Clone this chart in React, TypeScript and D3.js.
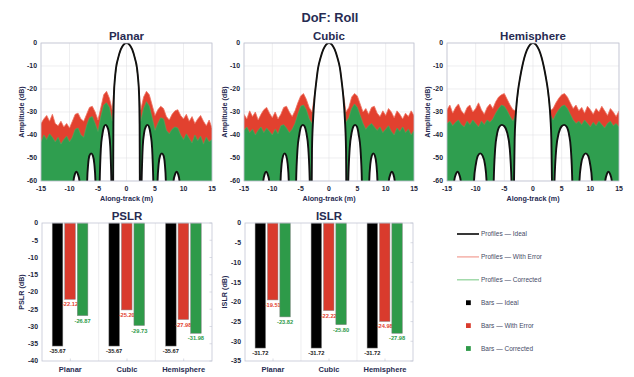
import * as d3 from 'd3';

const FONT = 'Liberation Sans, Arial, Helvetica, sans-serif';
const NAVY = '#272b52';
const INK = '#23263a';
const RED = '#e2412f';
const GREEN = '#2f9e4f';

// along-track sampling of the noisy profiles (m)
const profileX = d3.range(-15, 15.25, 0.5);
const profileXTicks = [-15, -10, -5, 0, 5, 10, 15];
const profileYTicks = [0, -10, -20, -30, -40, -50, -60];

// ideal profiles, right half [x (m), dB], mirrored for the left side
const planarIdealHalf: [number, number][] = [
  [0, 0], [0.5, -0.7], [1.0, -2.8], [1.5, -6.9], [1.85, -11], [2.05, -16], [2.2, -22], [2.3, -35], [2.38, -80],
  [2.48, -80], [2.65, -60], [2.85, -45], [3.1, -39], [3.4, -36.3], [3.68, -35.6], [3.95, -36.5], [4.25, -40], [4.5, -46], [4.7, -60], [4.85, -80],
  [5.3, -80], [5.45, -60], [5.65, -52.5], [5.9, -49], [6.2, -48], [6.5, -49], [6.72, -52.5], [6.9, -60], [7.05, -80],
  [8.1, -80], [8.25, -60], [8.5, -57.3], [8.8, -56], [9.05, -57], [9.3, -60], [9.45, -80],
  [15, -80],
];
const cubicIdealHalf: [number, number][] = [
  [0, 0], [0.5, -0.7], [1.0, -2.8], [1.5, -6.5], [1.9, -10.5], [2.25, -17], [2.55, -24], [2.8, -33], [3.0, -46], [3.12, -80],
  [3.25, -80], [3.4, -60], [3.65, -46], [4.0, -39], [4.3, -36.3], [4.62, -35.6], [4.95, -36.5], [5.25, -40], [5.55, -46], [5.8, -60], [5.95, -80],
  [6.95, -80], [7.1, -60], [7.3, -52.5], [7.55, -49], [7.82, -48], [8.1, -49], [8.35, -52.5], [8.55, -60], [8.7, -80],
  [10.4, -80], [10.55, -60], [10.8, -57.3], [11.1, -56], [11.35, -57], [11.6, -60], [11.75, -80],
  [15, -80],
];
const hemiIdealHalf: [number, number][] = [
  [0, 0], [0.5, -0.7], [1.05, -3], [1.5, -6.3], [1.86, -10], [2.25, -15], [2.6, -20.5], [2.85, -26], [3.05, -33], [3.2, -42], [3.32, -62], [3.4, -80],
  [3.55, -80], [3.75, -60], [4.05, -46], [4.5, -39], [5.0, -36.2], [5.45, -35.6], [5.9, -36.5], [6.3, -40], [6.6, -46], [6.85, -60], [7.0, -80],
  [7.95, -80], [8.1, -60], [8.4, -52.5], [8.8, -49], [9.2, -48], [9.6, -49], [9.95, -52.5], [10.3, -60], [10.45, -80],
  [12.45, -80], [12.6, -60], [12.85, -57.3], [13.15, -56], [13.45, -57], [13.75, -60], [13.9, -80],
  [15, -80],
];

// upper envelope of the noisy profiles, -15..15 m every 0.5 m
const planarError = [
  -35, -33, -31.5, -34, -31, -35, -36, -34, -36.5, -35, -37, -34, -31, -30.5, -33, -34, -31, -28, -27.5, -30, -33.5, -28, -22.5, -21, -24,
  -29, -14.2, -6.5, -2.6, -0.5, 0, -0.5, -2.6, -6.5, -14.2, -29,
  -23.5, -21, -22.5, -27, -31.5, -29, -27.5, -28.5, -32, -33.5, -31, -29.5, -29, -31.5, -33, -31, -34, -32, -35, -33, -31.5, -34, -36, -33.5, -37,
];
const planarCorrected = [
  -43, -40, -42, -39.5, -41, -43, -41, -44, -42, -40.5, -43, -41, -37.5, -37, -40, -41, -36, -32.5, -32, -35, -38.5, -32, -27, -26, -28,
  -34, -14.4, -6.7, -2.7, -0.6, 0, -0.6, -2.7, -6.7, -14.4, -34,
  -28.5, -25.5, -27.5, -32.5, -38, -35, -32.5, -33, -38, -39.5, -37.5, -36.5, -37, -40, -42, -39.5, -41.5, -43.5, -40, -42.5, -40.5, -44, -41, -43, -42,
];
const cubicError = [
  -31, -33, -29.5, -32, -30, -33.5, -31, -29, -28, -30.5, -32.5, -30, -33, -31, -28, -27.5, -30, -32, -29.5, -26, -23, -22, -24.5, -28, -30,
  -21.5, -11.7, -6.2, -2.6, -0.5, 0, -0.5, -2.6, -6.2, -11.7, -21.5,
  -30, -28, -23.5, -22, -23, -26.5, -30, -28.5, -31, -28, -27.5, -30.5, -32, -29.5, -31.5, -28.5, -30, -32.5, -29.5, -31, -33, -30.5, -32, -29.5, -31.5,
];
const cubicCorrected = [
  -38, -36.5, -39, -37.5, -40, -38, -36.5, -39, -37, -38.5, -40, -37.5, -39.5, -36, -35.5, -37, -39, -37.5, -35, -31, -27.5, -27, -29, -33, -35,
  -22, -12, -6.4, -2.7, -0.6, 0, -0.6, -2.7, -6.4, -12, -22,
  -34.5, -32.5, -28.5, -26.5, -28, -31.5, -35, -37.5, -36, -35, -36.5, -38, -36.5, -39, -37.5, -36, -38.5, -40, -37, -38.5, -36.5, -39, -37.5, -40, -38,
];
const hemiError = [
  -29, -27, -30.5, -28, -26.5, -29.5, -31, -28, -27, -30, -28.5, -26, -29, -31, -28, -26.5, -28.5, -25.5, -23.5, -22.5, -22, -24.5, -27, -29, -29.5,
  -18.5, -11.6, -6.1, -2.6, -0.6, 0, -0.6, -2.6, -6.1, -11.6, -18.5,
  -29.5, -28.5, -26, -24, -22.5, -22, -23.5, -26, -28.5, -27, -29.5, -28, -30.5, -27.5, -29, -31, -28.5, -30, -27.5, -29.5, -31.5, -28.5, -30, -32, -29.5,
];
const hemiCorrected = [
  -35, -34, -36, -34.5, -33.5, -35.5, -36.5, -34, -35.5, -33.5, -35, -36.5, -34, -35.5, -33.5, -34.5, -33, -30.5, -28.5, -27, -27.5, -29.5, -32, -34, -31,
  -18.8, -11.7, -6.2, -2.7, -0.6, 0, -0.6, -2.7, -6.2, -11.7, -18.8,
  -31, -33.5, -31, -29, -27.5, -27, -28.5, -31, -33.5, -35, -34, -35.5, -33.5, -35, -36.5, -34.5, -36, -34, -35.5, -37, -35, -34, -36, -35, -36.5,
];

// bar metrics (dB)
const barCategories = ['Planar', 'Cubic', 'Hemisphere'];
const barSeries = ['Ideal', 'With Error', 'Corrected'];
const barColors = ['#000000', '#d93b2d', '#2e9a49'];
const labelColors = ['#1a1a1a', '#e2412f', '#2e9a49'];
const pslrIdeal = [-35.67, -35.67, -35.67];
const pslrError = [-22.12, -25.2, -27.98];
const pslrCorrected = [-26.87, -29.73, -31.98];
const islrIdeal = [-31.72, -31.72, -31.72];
const islrError = [-19.51, -22.22, -24.98];
const islrCorrected = [-23.82, -25.8, -27.98];
const pslrTicks = [0, -5, -10, -15, -20, -25, -30, -35, -40];
const islrTicks = [0, -5, -10, -15, -20, -25, -30, -35];

const mirror = (half: [number, number][]): [number, number][] => [
  ...half.slice(1).map(([x, v]) => [-x, v] as [number, number]).reverse(),
  ...half,
];

type Profile = { id: string; title: string; ideal: [number, number][]; error: number[]; corrected: number[] };

const profiles: Profile[] = [
  { id: 'planar', title: 'Planar', ideal: mirror(planarIdealHalf), error: planarError, corrected: planarCorrected },
  { id: 'cubic', title: 'Cubic', ideal: mirror(cubicIdealHalf), error: cubicError, corrected: cubicCorrected },
  { id: 'hemi', title: 'Hemisphere', ideal: mirror(hemiIdealHalf), error: hemiError, corrected: hemiCorrected },
];

const PTOP = 43;
const PH = 138;
const profileBoxes = [
  { left: 41, width: 171 },
  { left: 244, width: 170 },
  { left: 447, width: 172 },
];

function ProfilePanel({ p, left, width }: { p: Profile; left: number; width: number }) {
  const x = d3.scaleLinear().domain([-15, 15]).range([0, width]);
  const y = d3.scaleLinear().domain([-60, 0]).range([PH, 0]);
  const noise = d3
    .area<number>()
    .x((_, i) => x(profileX[i]))
    .y0(y(-62))
    .y1((v) => y(v));
  const noiseTop = d3
    .line<number>()
    .x((_, i) => x(profileX[i]))
    .y((v) => y(v));
  const under = d3
    .area<[number, number]>()
    .x((d) => x(d[0]))
    .y0(y(-62))
    .y1((d) => y(d[1]))
    .curve(d3.curveMonotoneX);
  const idealLine = d3
    .line<[number, number]>()
    .x((d) => x(d[0]))
    .y((d) => y(d[1]))
    .curve(d3.curveMonotoneX);

  const grid = (
    <g stroke="#e2e2e6" strokeWidth={0.6}>
      {profileXTicks.map((t) => (
        <line key={`gx${t}`} x1={x(t)} x2={x(t)} y1={0} y2={PH} />
      ))}
      {profileYTicks.map((t) => (
        <line key={`gy${t}`} x1={0} x2={width} y1={y(t)} y2={y(t)} />
      ))}
    </g>
  );

  return (
    <g transform={`translate(${left},${PTOP})`}>
      <defs>
        <clipPath id={`clip-${p.id}`}>
          <rect width={width} height={PH} />
        </clipPath>
        <clipPath id={`under-${p.id}`}>
          <path d={under(p.ideal) ?? ''} />
        </clipPath>
      </defs>
      {grid}
      <g clipPath={`url(#clip-${p.id})`}>
        <path d={noise(p.error) ?? ''} fill={RED} />
        <path d={noise(p.corrected) ?? ''} fill={GREEN} />
        <path d={under(p.ideal) ?? ''} fill="#fff" />
        <g clipPath={`url(#under-${p.id})`}>{grid}</g>
        <path d={noiseTop(p.error) ?? ''} fill="none" stroke="#ee7462" strokeWidth={0.8} />
        <path d={noiseTop(p.corrected) ?? ''} fill="none" stroke="#47b060" strokeWidth={0.6} />
        <path d={idealLine(p.ideal) ?? ''} fill="none" stroke="#111" strokeWidth={1.9} />
      </g>
      <rect width={width} height={PH} fill="none" stroke="#c3c6d4" strokeWidth={0.8} />
      {profileYTicks.map((t) => (
        <text key={`ty${t}`} x={-4} y={y(t)} dy="0.35em" textAnchor="end" fontSize={6.9} fontWeight="bold" fill={INK}>
          {t}
        </text>
      ))}
      {profileXTicks.map((t) => (
        <text key={`tx${t}`} x={x(t)} y={PH + 10} textAnchor="middle" fontSize={6.9} fontWeight="bold" fill={INK}>
          {t}
        </text>
      ))}
      <text x={width / 2} y={-3} textAnchor="middle" fontSize={11.5} fontWeight="bold" fill={NAVY}>
        {p.title}
      </text>
      <text x={width / 2} y={PH + 20} textAnchor="middle" fontSize={7.2} fontWeight="bold" fill={NAVY}>
        Along-track (m)
      </text>
      <text
        transform={`translate(-17,${PH / 2}) rotate(-90)`}
        textAnchor="middle"
        fontSize={7.2}
        fontWeight="bold"
        fill={NAVY}
      >
        Amplitude (dB)
      </text>
    </g>
  );
}

const BTOP = 223;
const BH = 138;

type BarProps = {
  id: string;
  title: string;
  ylabel: string;
  left: number;
  width: number;
  ticks: number[];
  values: number[][];
};

function BarPanel({ title, ylabel, left, width, ticks, values }: BarProps) {
  const x0 = d3.scaleBand<string>().domain(barCategories).range([0, width]);
  const bw = x0.bandwidth();
  const x1 = d3.scaleBand<string>().domain(barSeries).range([bw * 0.18, bw * 0.81]).paddingInner(0.15);
  const y = d3.scaleLinear().domain([d3.min(ticks) ?? -40, 0]).range([BH, 0]);

  return (
    <g transform={`translate(${left},${BTOP})`}>
      {barCategories.slice(1).map((c) => (
        <line key={`sep${c}`} x1={x0(c)} x2={x0(c)} y1={0} y2={BH} stroke="#e2e2e6" strokeWidth={0.6} />
      ))}
      {barCategories.map((c, ci) =>
        barSeries.map((s, si) => {
          const v = values[si][ci];
          const bx = (x0(c) ?? 0) + (x1(s) ?? 0);
          return (
            <g key={`${c}-${s}`}>
              <rect
                x={bx}
                y={y(0)}
                width={x1.bandwidth()}
                height={y(v) - y(0)}
                fill={barColors[si]}
                stroke="#8a8a8a"
                strokeWidth={0.5}
              />
              <text
                x={bx + x1.bandwidth() / 2}
                y={y(v) + 7}
                textAnchor="middle"
                fontSize={5.7}
                fontWeight="bold"
                fill={labelColors[si]}
              >
                {v.toFixed(2)}
              </text>
            </g>
          );
        }),
      )}
      <rect width={width} height={BH} fill="none" stroke="#c3c6d4" strokeWidth={0.8} />
      {ticks.map((t) => (
        <g key={`t${t}`}>
          <line x1={width - 2.5} x2={width} y1={y(t)} y2={y(t)} stroke="#c3c6d4" strokeWidth={0.6} />
          <text x={-4} y={y(t)} dy="0.35em" textAnchor="end" fontSize={6.9} fontWeight="bold" fill={INK}>
            {t}
          </text>
        </g>
      ))}
      {barCategories.map((c) => (
        <g key={`c${c}`}>
          <line
            x1={(x0(c) ?? 0) + bw / 2}
            x2={(x0(c) ?? 0) + bw / 2}
            y1={BH}
            y2={BH - 2.5}
            stroke="#c3c6d4"
            strokeWidth={0.6}
          />
          <text x={(x0(c) ?? 0) + bw / 2} y={BH + 10.5} textAnchor="middle" fontSize={7.5} fontWeight="bold" fill={NAVY}>
            {c}
          </text>
        </g>
      ))}
      <text x={width / 2} y={-3} textAnchor="middle" fontSize={11.5} fontWeight="bold" fill={NAVY}>
        {title}
      </text>
      <text
        transform={`translate(-18.5,${BH / 2}) rotate(-90)`}
        textAnchor="middle"
        fontSize={7.2}
        fontWeight="bold"
        fill={NAVY}
      >
        {ylabel}
      </text>
    </g>
  );
}

const legendLines = [
  { label: 'Profiles — Ideal', color: '#222', width: 1.8 },
  { label: 'Profiles — With Error', color: '#f3a49b', width: 1.3 },
  { label: 'Profiles — Corrected', color: '#93d49d', width: 1.3 },
];
const legendSquares = [
  { label: 'Bars — Ideal', color: barColors[0] },
  { label: 'Bars — With Error', color: barColors[1] },
  { label: 'Bars — Corrected', color: barColors[2] },
];

function Legend() {
  const rowY = d3.scalePoint<number>().domain(d3.range(6)).range([234, 348.5]);
  return (
    <g fontSize={6.5} fill="#454a66">
      {legendLines.map((l, i) => (
        <g key={l.label}>
          <line x1={457} x2={479} y1={rowY(i)} y2={rowY(i)} stroke={l.color} strokeWidth={l.width} />
          <text x={481} y={rowY(i)} dy="0.35em">
            {l.label}
          </text>
        </g>
      ))}
      {legendSquares.map((s, i) => (
        <g key={s.label}>
          <rect x={466} y={(rowY(i + 3) ?? 0) - 2.4} width={4.8} height={4.8} fill={s.color} />
          <text x={481} y={rowY(i + 3)} dy="0.35em">
            {s.label}
          </text>
        </g>
      ))}
    </g>
  );
}

export default function App() {
  return (
    <svg
      width={634}
      height={377}
      viewBox="0 0 634 377"
      style={{ position: 'absolute', left: 0, top: 0, background: '#fff', fontFamily: FONT }}
    >
      <text x={330} y={22} textAnchor="middle" fontSize={12.8} fontWeight="bold" fill={NAVY}>
        DoF: Roll
      </text>
      {profiles.map((p, i) => (
        <ProfilePanel key={p.id} p={p} left={profileBoxes[i].left} width={profileBoxes[i].width} />
      ))}
      <BarPanel
        id="pslr"
        title="PSLR"
        ylabel="PSLR (dB)"
        left={42}
        width={170}
        ticks={pslrTicks}
        values={[pslrIdeal, pslrError, pslrCorrected]}
      />
      <BarPanel
        id="islr"
        title="ISLR"
        ylabel="ISLR (dB)"
        left={245}
        width={168}
        ticks={islrTicks}
        values={[islrIdeal, islrError, islrCorrected]}
      />
      <Legend />
    </svg>
  );
}
